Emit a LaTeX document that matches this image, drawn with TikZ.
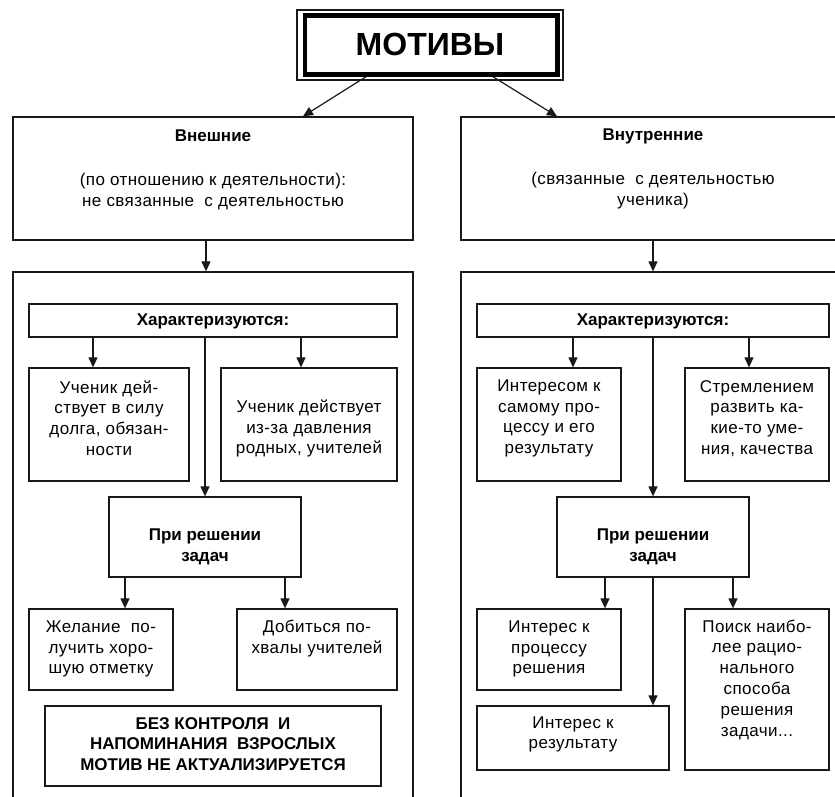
\documentclass[tikz,border=0pt]{standalone}
\usepackage{fontspec}
\setmainfont{Liberation Sans}
\newfontfamily\bodyfont[LetterSpace=2.5]{Liberation Sans}
\usetikzlibrary{arrows.meta}
\begin{document}
\begin{tikzpicture}[x=1pt,y=-1pt,
  box/.style={draw=black!90, line width=1.3pt, inner sep=0pt},
  txt/.style={align=center, font=\bodyfont\fontsize{17}{20.8}\selectfont, inner sep=0pt},
  btxt/.style={align=center, font=\fontsize{17}{20.8}\selectfont\bfseries, inner sep=0pt},
  arr/.style={draw=black!90, line width=1.2pt, -{Triangle[length=10pt,width=9pt]}}]
\useasboundingbox (0,0) rectangle (835,796);
\clip (0,0) rectangle (835,796);
\fill[white] (0,0) rectangle (835,796);

% title
\node[box, minimum width=266pt, minimum height=70pt] (motO) at (430,45) {};
\node[draw=black, line width=4.5pt, inner sep=0pt, minimum width=252.5pt, minimum height=59pt] (mot) at (431,45) {};
\node[font=\fontsize{32}{36}\selectfont\bfseries, inner sep=0pt] (motT) at (430,44) {МОТИВЫ};

% top boxes
\node[box, minimum width=400pt, minimum height=123pt] (topL) at (213,178.5) {};
\node[box, minimum width=384pt, minimum height=123pt] (topR) at (653,178.5) {};
\node[btxt] (topLh) at (213,136) {Внешние};
\node[txt] (topLt) at (213,191.5) {(по отношению к деятельности):\\не связанные\ \ с деятельностью};
\node[btxt] (topRh) at (653,136) {Внутренние};
\node[txt] (topRt) at (653,190.5) {(связанные\ \ с деятельностью\\ученика)};

% big open boxes
\node[box, minimum width=400pt, minimum height=558pt] (bigL) at (213,551) {};
\node[box, minimum width=384pt, minimum height=558pt] (bigR) at (653,551) {};

% left content
\node[box, minimum width=368pt, minimum height=33pt] (charL) at (213,320.5) {};
\node[btxt] (charLt) at (213,321) {Характеризуются:};
\node[box, minimum width=160pt, minimum height=113pt] (u1) at (109,424.5) {};
\node[txt] (u1t) at (109,418) {Ученик дей-\\ствует в силу\\долга, обязан-\\ности};
\node[box, minimum width=176pt, minimum height=113pt] (u2) at (309,424.5) {};
\node[txt] (u2t) at (309,428.5) {Ученик действует\\из-за давления\\родных, учителей};
\node[box, minimum width=192pt, minimum height=80pt] (prL) at (205,537) {};
\node[btxt] (prLt) at (205,547) {При решении\\задач};
\node[box, minimum width=144pt, minimum height=81pt] (zh) at (101,649.5) {};
\node[txt] (zht) at (101,649) {Желание\ \ по-\\лучить хоро-\\шую отметку};
\node[box, minimum width=160pt, minimum height=81pt] (dob) at (317,649.5) {};
\node[txt] (dobt) at (317,638.5) {Добиться по-\\хвалы учителей};
\node[box, minimum width=336pt, minimum height=80pt] (bez) at (213,746) {};
\node[btxt] (bezt) at (213,744) {БЕЗ КОНТРОЛЯ\ \ И\\НАПОМИНАНИЯ\ \ ВЗРОСЛЫХ\\МОТИВ НЕ АКТУАЛИЗИРУЕТСЯ};

% right content
\node[box, minimum width=352pt, minimum height=33pt] (charR) at (653,320.5) {};
\node[btxt] (charRt) at (653,321) {Характеризуются:};
\node[box, minimum width=144pt, minimum height=113pt] (ir1) at (549,424.5) {};
\node[txt] (ir1t) at (549,418.5) {Интересом к\\самому про-\\цессу и его\\результату};
\node[box, minimum width=144pt, minimum height=113pt] (st) at (757,424.5) {};
\node[txt] (stt) at (757,418.5) {Стремлением\\развить ка-\\кие-то уме-\\ния, качества};
\node[box, minimum width=192pt, minimum height=80pt] (prR) at (653,537) {};
\node[btxt] (prRt) at (653,547) {При решении\\задач};
\node[box, minimum width=144pt, minimum height=81pt] (ip) at (549,649.5) {};
\node[txt] (ipt) at (549,649) {Интерес к\\процессу\\решения};
\node[box, minimum width=192pt, minimum height=64pt] (ir) at (573,738) {};
\node[txt] (irt) at (573,734.5) {Интерес к\\результату};
\node[box, minimum width=144pt, minimum height=161pt] (po) at (757,689.5) {};
\node[txt] (pot) at (757,679.5) {Поиск наибо-\\лее рацио-\\нального\\способа\\решения\\задачи...};

% arrows
\draw[arr] ([xshift=-65pt]mot.south) -- ([xshift=90pt]topL.north);
\draw[arr] ([xshift=62pt]mot.south) -- ([xshift=-96pt]topR.north);
\draw[arr] ([xshift=-7pt]topL.south) -- ([xshift=-7pt]bigL.north);
\draw[arr] (topR.south) -- (bigR.north);

\draw[arr] ([xshift=-120pt]charL.south) -- ([xshift=-16pt]u1.north);
\draw[arr] ([xshift=88pt]charL.south) -- ([xshift=-8pt]u2.north);
\draw[arr] ([xshift=-8pt]charL.south) -- (prL.north);
\draw[arr] ([xshift=-80pt]prL.south) -- ([xshift=24pt]zh.north);
\draw[arr] ([xshift=80pt]prL.south) -- ([xshift=-32pt]dob.north);

\draw[arr] ([xshift=-80pt]charR.south) -- ([xshift=24pt]ir1.north);
\draw[arr] ([xshift=96pt]charR.south) -- ([xshift=-8pt]st.north);
\draw[arr] (charR.south) -- (prR.north);
\draw[arr] ([xshift=-48pt]prR.south) -- ([xshift=56pt]ip.north);
\draw[arr] (prR.south) -- ([xshift=80pt]ir.north);
\draw[arr] ([xshift=80pt]prR.south) -- ([xshift=-24pt]po.north);
\end{tikzpicture}
\end{document}
